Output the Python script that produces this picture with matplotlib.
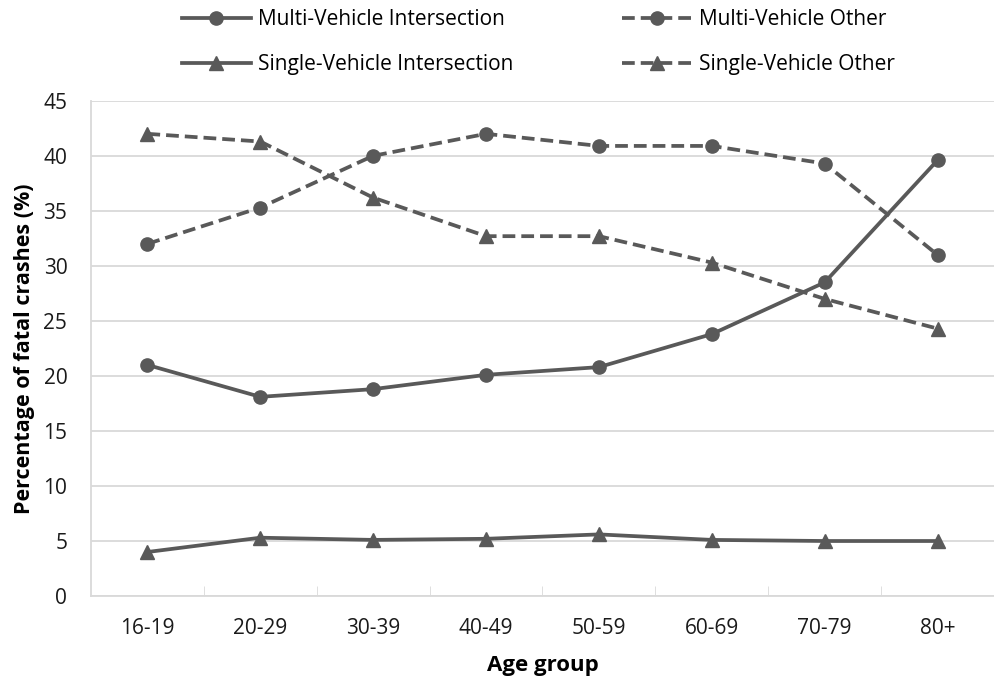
import matplotlib
matplotlib.use("Agg")
import matplotlib.pyplot as plt

# data
age_groups = ["16-19", "20-29", "30-39", "40-49", "50-59", "60-69", "70-79", "80+"]
multi_inter = [21.0, 18.1, 18.8, 20.1, 20.8, 23.8, 28.5, 39.6]
multi_other = [32.0, 35.3, 40.0, 42.0, 40.9, 40.9, 39.3, 31.0]
single_inter = [4.0, 5.3, 5.1, 5.2, 5.6, 5.1, 5.0, 5.0]
single_other = [42.0, 41.3, 36.2, 32.7, 32.7, 30.3, 27.0, 24.3]

plt.rcParams['font.family'] = ['Open Sans', 'DejaVu Sans']
col = "#595959"
dash = (0, (3.4, 1.6))

fig = plt.figure(figsize=(9.94, 6.77), dpi=100)
ax = fig.add_axes([0.0915, 0.1196, 0.9085, 0.7315])

x = range(len(age_groups))
# order so that 2-column legend reads row-wise like the reference
ax.plot(x, multi_inter, color=col, lw=2.7, ls="-", marker="o", ms=9.5,
        label="Multi-Vehicle Intersection")
ax.plot(x, single_inter, color=col, lw=2.7, ls="-", marker="^", ms=10,
        label="Single-Vehicle Intersection")
ax.plot(x, multi_other, color=col, lw=2.7, ls=dash, marker="o", ms=9.5,
        label="Multi-Vehicle Other")
ax.plot(x, single_other, color=col, lw=2.7, ls=dash, marker="^", ms=10,
        label="Single-Vehicle Other")

ax.set_xlim(-0.5, len(age_groups) - 0.5)
ax.set_ylim(0, 45)
ax.set_yticks(range(0, 46, 5))
ax.set_xticks(list(x))
ax.set_xticklabels(age_groups)
ax.set_xticks([i + 0.5 for i in range(len(age_groups) - 1)], minor=True)
ax.tick_params(axis="x", which="major", length=0, pad=16, labelsize=15, colors="#1a1a1a")
ax.tick_params(axis="x", which="minor", length=7, direction="in", color="#d9d9d9")
ax.tick_params(axis="y", length=0, pad=17, labelsize=15, colors="#1a1a1a")
ax.grid(axis="y", color="#d9d9d9", lw=1.3)
ax.set_axisbelow(True)
for s in ["top", "right"]:
    ax.spines[s].set_visible(False)
for s in ["left", "bottom"]:
    ax.spines[s].set_color("#d9d9d9")
    ax.spines[s].set_linewidth(1.3)

ax.set_xlabel("Age group", fontsize=16, fontweight="bold", labelpad=11)
ax.set_ylabel("Percentage of fatal crashes (%)", fontsize=15.5, fontweight="bold", labelpad=6)

ax.legend(loc="lower center", bbox_to_anchor=(0.495, 1.014), ncol=2, frameon=False,
          fontsize=15, handlelength=3.35, columnspacing=5.2, labelspacing=1.15,
          handletextpad=0.33)

fig.savefig("out.png", dpi=100)
